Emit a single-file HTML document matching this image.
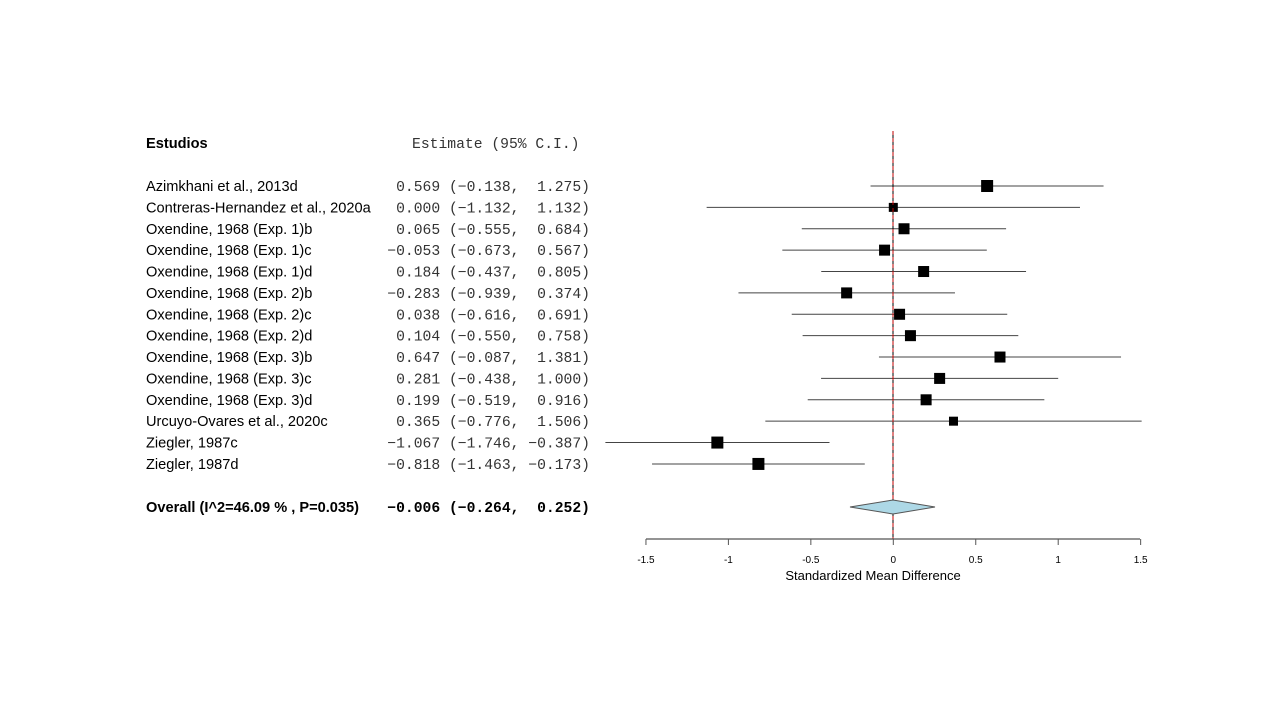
<!DOCTYPE html>
<html><head><meta charset="utf-8"><style>body{margin:0;background:#fff}text{white-space:pre}</style></head><body>
<svg width="1280" height="720" xmlns="http://www.w3.org/2000/svg">
<rect width="1280" height="720" fill="#fff"/>
<g font-family="Liberation Sans, sans-serif" font-size="14.6" fill="#000">
<text x="146" y="148" font-weight="bold">Estudios</text>
</g>
<text x="412" y="148" font-family="Liberation Mono, monospace" font-size="14.7" fill="#333" style="white-space:pre">Estimate (95% C.I.)</text>
<g id="rows"></g>
<line x1="893" y1="131" x2="893" y2="539" stroke="#000" stroke-width="1"/>
<line x1="893" y1="131" x2="893" y2="539" stroke="#c00000" stroke-width="1" stroke-dasharray="4,3"/>
<g stroke="#555" stroke-width="1.2">
<line x1="646" y1="539" x2="1140" y2="539"/>
</g>
<g id="ticks"></g>
<polygon points="850,507 893,500 935,507 893,514" fill="#add8e6" stroke="#555" stroke-width="1"/>
<text x="873" y="580" font-family="Liberation Sans, sans-serif" font-size="13" text-anchor="middle">Standardized Mean Difference</text>
<script>
const d=[["Azimkhani et al., 2013d",0.569,-0.138,1.275,12],
["Contreras-Hernandez et al., 2020a",0.000,-1.132,1.132,9],
["Oxendine, 1968 (Exp. 1)b",0.065,-0.555,0.684,11],
["Oxendine, 1968 (Exp. 1)c",-0.053,-0.673,0.567,11],
["Oxendine, 1968 (Exp. 1)d",0.184,-0.437,0.805,11],
["Oxendine, 1968 (Exp. 2)b",-0.283,-0.939,0.374,11],
["Oxendine, 1968 (Exp. 2)c",0.038,-0.616,0.691,11],
["Oxendine, 1968 (Exp. 2)d",0.104,-0.550,0.758,11],
["Oxendine, 1968 (Exp. 3)b",0.647,-0.087,1.381,11],
["Oxendine, 1968 (Exp. 3)c",0.281,-0.438,1.000,11],
["Oxendine, 1968 (Exp. 3)d",0.199,-0.519,0.916,11],
["Urcuyo-Ovares et al., 2020c",0.365,-0.776,1.506,9],
["Ziegler, 1987c",-1.067,-1.746,-0.387,12],
["Ziegler, 1987d",-0.818,-1.463,-0.173,12]];
const X=v=>893.3+v*164.9;const ns="http://www.w3.org/2000/svg";
const g=document.getElementById("rows");
function el(t,a,txt){const e=document.createElementNS(ns,t);for(const k in a)e.setAttribute(k,a[k]);if(txt!=null)e.textContent=txt;g.appendChild(e);return e;}
const f=v=>(v<0?"\u2212":" ")+Math.abs(v).toFixed(3);
d.forEach((r,i)=>{const y=186+i*21.38;
el("text",{x:146,y:y+5,"font-family":"Liberation Sans, sans-serif","font-size":"14.6"},r[0]);
el("text",{x:590,y:y+5,"font-family":"Liberation Mono, monospace","font-size":"14.7",fill:"#333","text-anchor":"end",style:"white-space:pre"},f(r[1]).trim()+" ("+f(r[2]).trim()+", "+f(r[3])+")");
el("line",{x1:X(r[2]),x2:X(r[3]),y1:y,y2:y,stroke:"#444","stroke-width":1});
const s=r[4];el("rect",{x:X(r[1])-s/2,y:y-s/2,width:s,height:s,fill:"#000"});});
el("text",{x:146,y:512,"font-family":"Liberation Sans, sans-serif","font-size":"14.6","font-weight":"bold"},"Overall (I^2=46.09 % , P=0.035)");
el("text",{x:590,y:512,"font-family":"Liberation Mono, monospace","font-size":"14.7","font-weight":"bold","text-anchor":"end",style:"white-space:pre"},"\u22120.006 (\u22120.264,  0.252)");
const t=document.getElementById("ticks");
[-1.5,-1,-0.5,0,0.5,1,1.5].forEach(v=>{const x=X(v);
const l=document.createElementNS(ns,"line");l.setAttribute("x1",x);l.setAttribute("x2",x);l.setAttribute("y1",539);l.setAttribute("y2",545);l.setAttribute("stroke","#555");t.appendChild(l);
const tx=document.createElementNS(ns,"text");tx.setAttribute("x",x);tx.setAttribute("y",563);tx.setAttribute("font-family","Liberation Sans, sans-serif");tx.setAttribute("font-size","10");tx.setAttribute("text-anchor","middle");tx.textContent=String(v);t.appendChild(tx);});
</script>
</svg>
</body></html>
